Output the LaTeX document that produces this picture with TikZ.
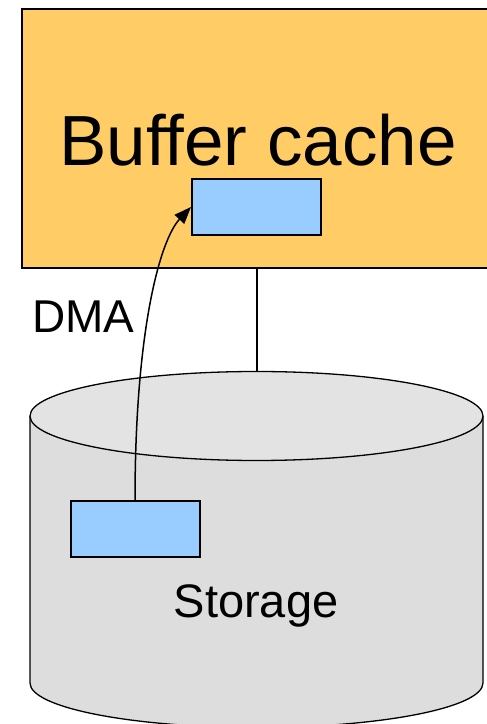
\documentclass[tikz,border=0pt]{standalone}
\usepackage{fontspec}
\setmainfont{Liberation Sans}
\usetikzlibrary{arrows.meta}
\definecolor{cacheorange}{HTML}{FFCC66}
\definecolor{blockblue}{HTML}{99CCFF}
\definecolor{diskgray}{HTML}{DDDDDD}
\definecolor{disktop}{HTML}{E3E3E3}
\begin{document}
\begin{tikzpicture}[x=1pt,y=1pt,
  block/.style={draw=black,line width=2pt,fill=blockblue,minimum width=129pt,minimum height=56pt,inner sep=0pt},
  label/.style={inner sep=0pt,anchor=base},
  disk/.style={draw=black,line width=1.3pt}]
\useasboundingbox (0,0) rectangle (487,724);
\clip (0,0) rectangle (487,724);
% buffer cache area
\draw[line width=2pt,fill=cacheorange] (22,456) rectangle (520,715);
\node[label,font=\fontsize{71}{82}\selectfont] (bc) at (258,558) {Buffer cache};
\node[block] (cblk) at (256.5,517) {};
% storage cylinder
\coordinate (cyltop) at (257,352);
\fill[diskgray] (30,308) -- (30,41) arc[start angle=180,end angle=360,x radius=226.5,y radius=44.5] -- (483,308) -- cycle;
\draw[disk] (30,308) -- (30,41) arc[start angle=180,end angle=360,x radius=226.5,y radius=44.5] -- (483,308);
\draw[disk,fill=disktop] (256.5,308) ellipse[x radius=226.5,y radius=44.5];
\node[label,font=\fontsize{47}{56}\selectfont] (st) at (256,106) {Storage};
\node[block] (sblk) at (135,194.5) {};
% link between cache and storage
\coordinate (cachebottom) at (257,456);
\draw[line width=1.3pt] (cachebottom) -- (cyltop);
% DMA transfer
\node[label,anchor=base west,font=\fontsize{46}{54}\selectfont] (dma) at (32,391) {DMA};
\draw[line width=1.5pt,-{Triangle[length=17pt,width=13pt]}] (sblk.north) .. controls (135,394) and (160,484) .. (cblk.west);
\end{tikzpicture}
\end{document}
